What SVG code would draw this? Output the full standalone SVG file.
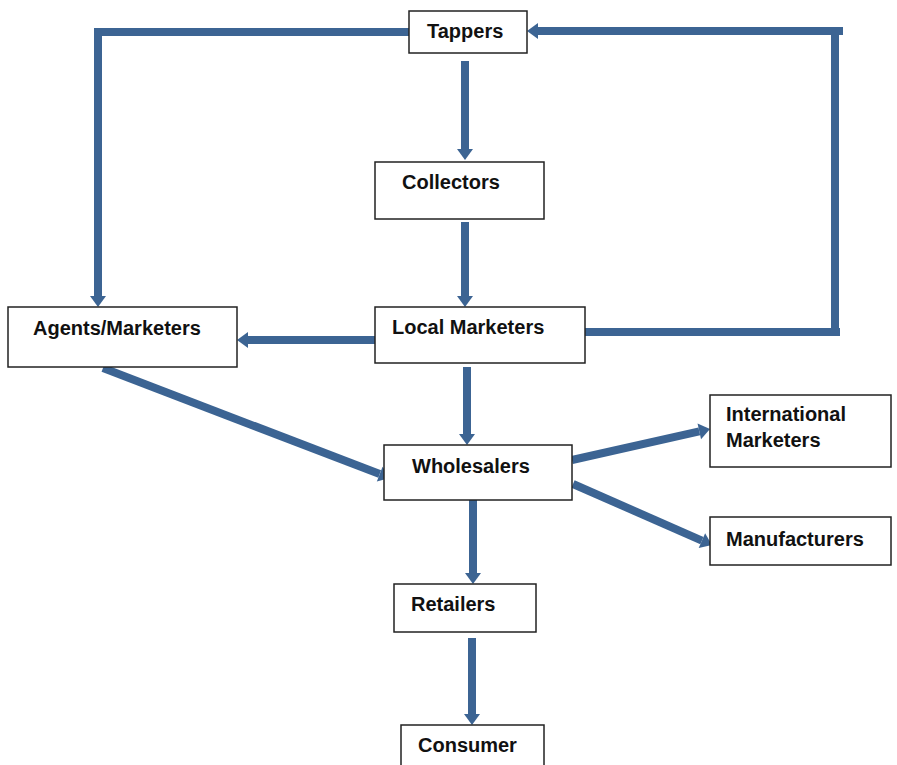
<svg xmlns="http://www.w3.org/2000/svg" width="897" height="765" viewBox="0 0 897 765">
<style>
.box{fill:#fff;stroke:#222;stroke-width:1.5}
.lbl{font-family:"Liberation Sans",Arial,sans-serif;font-weight:bold;font-size:20px;fill:#111}
.con{fill:none;stroke:#3C6493;stroke-width:8;stroke-linejoin:miter}
</style>
<defs>
<marker id="ah" markerUnits="userSpaceOnUse" markerWidth="12" markerHeight="18" viewBox="0 -9 12 18" refX="0" refY="0" orient="auto" overflow="visible">
<path d="M0,-8 L11,0 L0,8 z" fill="#3C6493"/>
</marker>
</defs>
<rect width="897" height="765" fill="#fff"/>
<g id="connectors">
<path class="con" d="M465,61 V149" marker-end="url(#ah)"/>
<path class="con" d="M465,222 V296" marker-end="url(#ah)"/>
<path class="con" d="M375,340 H248" marker-end="url(#ah)"/>
<path class="con" d="M467,367 V434" marker-end="url(#ah)"/>
<path class="con" d="M473,500 V573" marker-end="url(#ah)"/>
<path class="con" d="M472,638 V714" marker-end="url(#ah)"/>
<path class="con" d="M585,332 H840 M835,336 V31 M843,31 H538" marker-end="url(#ah)"/>
<path class="con" d="M409,32 H94 M98,28 V296" marker-end="url(#ah)"/>
<path class="con" d="M103,368 L379.7,474.1" marker-end="url(#ah)"/>
<path class="con" d="M572,460 L699.3,431.4" marker-end="url(#ah)"/>
<path class="con" d="M573,484 L701.9,540.6" marker-end="url(#ah)"/>
</g>
<g id="tappers"><rect class="box" x="409" y="11" width="118" height="42"/><text class="lbl" x="427" y="38">Tappers</text></g>
<g id="collectors"><rect class="box" x="375" y="162" width="169" height="57"/><text class="lbl" x="402" y="189">Collectors</text></g>
<g id="agents"><rect class="box" x="8" y="307" width="229" height="60"/><text class="lbl" x="33" y="335">Agents/Marketers</text></g>
<g id="local"><rect class="box" x="375" y="307" width="210" height="56"/><text class="lbl" x="392" y="334">Local Marketers</text></g>
<g id="wholesalers"><rect class="box" x="384" y="445" width="188" height="55"/><text class="lbl" x="412" y="473">Wholesalers</text></g>
<g id="international"><rect class="box" x="710" y="395" width="181" height="72"/><text class="lbl" x="726" y="421">International</text><text class="lbl" x="726" y="447">Marketers</text></g>
<g id="manufacturers"><rect class="box" x="710" y="517" width="181" height="48"/><text class="lbl" x="726" y="546">Manufacturers</text></g>
<g id="retailers"><rect class="box" x="394" y="584" width="142" height="48"/><text class="lbl" x="411" y="611">Retailers</text></g>
<g id="consumer"><rect class="box" x="401" y="725" width="143" height="50"/><text class="lbl" x="418" y="752">Consumer</text></g>
</svg>
